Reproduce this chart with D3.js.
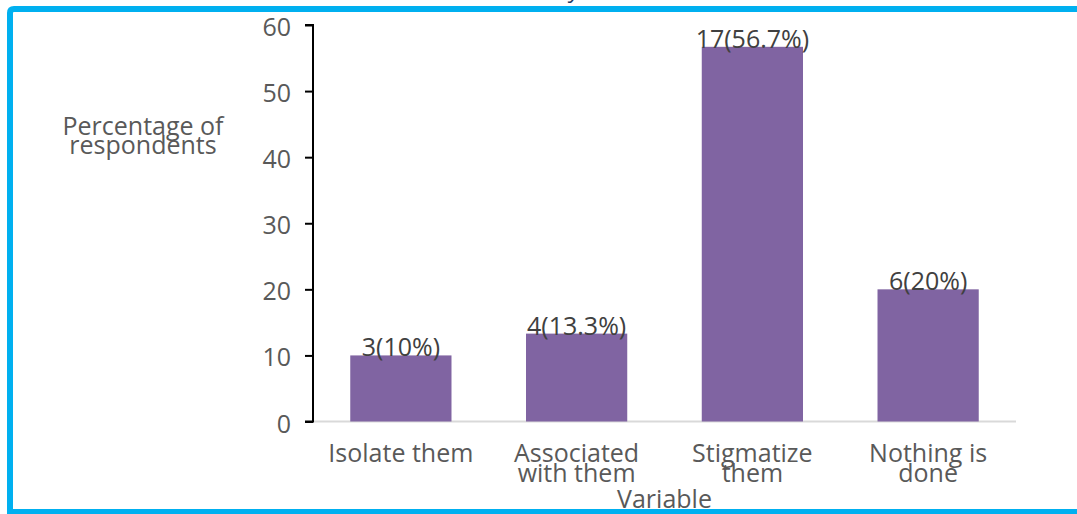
<!DOCTYPE html>
<html>
<head>
<meta charset="utf-8">
<script src="https://cdn.jsdelivr.net/npm/d3@7"></script>
<style>
  html, body { margin: 0; padding: 0; background: #fff; }
  svg { display: block; }
  text { font-family: "Open Sans", "Liberation Sans", sans-serif; }
</style>
</head>
<body>
<svg id="chart" width="1077" height="514"></svg>
<script>
// Responses about how people treat affected individuals
const categories = ["Isolate them", "Associated with them", "Stigmatize them", "Nothing is done"];
const categoryLines = [["Isolate them"], ["Associated", "with them"], ["Stigmatize", "them"], ["Nothing is", "done"]];
const counts = [3, 4, 17, 6];
const percents = [10, 13.3, 56.7, 20];
const yTicks = [0, 10, 20, 30, 40, 50, 60];

const FS = 25;
const svg = d3.select("#chart");
const margin = { left: 313, right: 61, top: 25, bottom: 92.5 };
const W = 1077, H = 514;

const x = d3.scaleBand()
  .domain(categories)
  .range([margin.left, W - margin.right])
  .paddingInner(0.424)
  .paddingOuter(0.212);

const y = d3.scaleLinear()
  .domain([0, 60])
  .range([H - margin.bottom, margin.top]);

// horizontal baseline
svg.append("line")
  .attr("x1", margin.left).attr("x2", W - margin.right)
  .attr("y1", y(0)).attr("y2", y(0))
  .attr("stroke", "#d9d9d9").attr("stroke-width", 2);

// bars
svg.append("g").selectAll("rect")
  .data(categories)
  .join("rect")
  .attr("x", d => x(d))
  .attr("width", x.bandwidth())
  .attr("y", (d, i) => y(percents[i]))
  .attr("height", (d, i) => y(0) - y(percents[i]))
  .attr("fill", "#8064a2");

// value labels
svg.append("g").selectAll("text")
  .data(categories)
  .join("text")
  .attr("x", d => x(d) + x.bandwidth() / 2)
  .attr("y", (d, i) => y(percents[i]) + 1)
  .attr("text-anchor", "middle")
  .attr("font-size", FS)
  .attr("fill", "#404040")
  .text((d, i) => `${counts[i]}(${percents[i]}%)`);

// y axis
const yAxis = d3.axisLeft(y).tickValues(yTicks).tickSize(8).tickPadding(14);
const gy = svg.append("g")
  .attr("transform", `translate(${margin.left},0)`)
  .call(yAxis);
gy.select(".domain").attr("stroke", "#000").attr("stroke-width", 2)
  .attr("d", `M-8,${y(60)}H0V${y(0)}H-8`);
gy.selectAll(".tick line").attr("stroke", "#000").attr("stroke-width", 2);
gy.selectAll(".tick text")
  .attr("font-size", FS)
  .attr("fill", "#595959")
  .attr("font-family", "Open Sans, sans-serif")
  .attr("dy", "0.42em");

// category labels
const cat = svg.append("g").selectAll("text")
  .data(categories)
  .join("text")
  .attr("x", d => x(d) + x.bandwidth() / 2)
  .attr("y", 462)
  .attr("text-anchor", "middle")
  .attr("font-size", FS)
  .attr("fill", "#595959");
cat.each(function(d, i) {
  const t = d3.select(this);
  categoryLines[i].forEach((line, j) => {
    t.append("tspan")
      .attr("x", x(d) + x.bandwidth() / 2)
      .attr("dy", j === 0 ? 0 : 20)
      .text(line);
  });
});

// axis titles
svg.append("text")
  .attr("x", (margin.left + W - margin.right) / 2)
  .attr("y", 508)
  .attr("text-anchor", "middle")
  .attr("font-size", FS)
  .attr("fill", "#595959")
  .text("Variable");

const yt = svg.append("text")
  .attr("x", 143).attr("y", 135)
  .attr("text-anchor", "middle")
  .attr("font-size", FS)
  .attr("fill", "#595959");
yt.append("tspan").attr("x", 143).attr("dy", 0).text("Percentage of");
yt.append("tspan").attr("x", 143).attr("dy", 19).text("respondents");

// title descender above the frame
svg.append("text")
  .attr("x", 570).attr("y", -2)
  .attr("font-size", 22)
  .attr("font-style", "italic")
  .attr("fill", "#1f3864")
  .text("y");

// blue frame
svg.append("path")
  .attr("d", `M${W + 5},9 H14 Q10,9 10,13 V512 H${W + 5}`)
  .attr("fill", "none")
  .attr("stroke", "#00b0f0")
  .attr("stroke-width", 6);
</script>
</body>
</html>
